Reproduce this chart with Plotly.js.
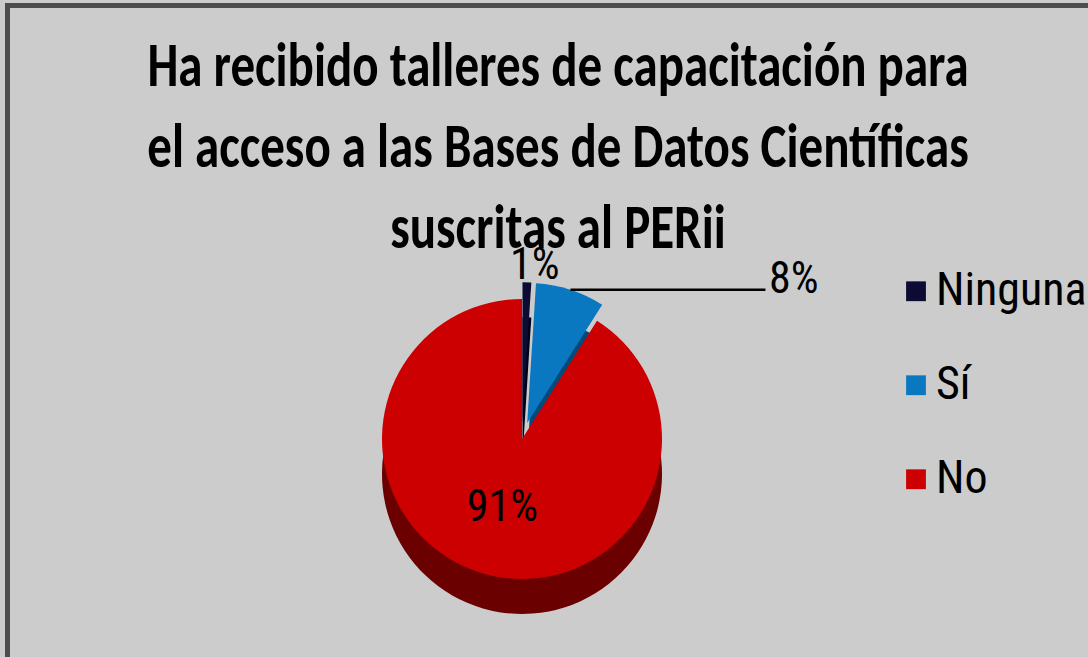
<!DOCTYPE html>
<html>
<head>
<meta charset="utf-8">
<script src="https://cdn.plot.ly/plotly-3.0.1.min.js"></script>
<style>
html,body{margin:0;padding:0;background:#cccccc;}
#chart{width:1088px;height:657px;}
#chart .gtitle{transform-box:fill-box;transform-origin:50% 50%;transform:scaleY(1.27);}
#chart .legendpie{transform:translate(20px,0px) scale(1.65);}
</style>
</head>
<body>
<div id="chart"></div>
<script>
const categories = ["Ninguna", "Sí", "No"];
const values = [1, 8, 91];
const topColors = ["#0b0b33", "#0a78c0", "#cc0000"];
const sideColors = ["#000018", "#004a7c", "#6a0000"];
const chartTitle = "Ha recibido talleres de capacitación para<br>el acceso a las Bases de Datos Científicas<br>suscritas al PERii";

const W = 1088, H = 657;
const cx = 522, cy = 439, r = 140, pullFrac = 0.12, depth = 35;
const half = r * (1 + pullFrac);
function dom(centerY) {
  return {
    x: [(cx - half) / W, (cx + half) / W],
    y: [((H - centerY) - half) / H, ((H - centerY) + half) / H]
  };
}
const pulls = [pullFrac, pullFrac, 0];
const narrow = "Roboto Condensed, Liberation Sans Narrow, Arial Narrow, sans-serif";
const labelFont = {family: narrow, size: 44, color: "#000000"};

const total = values.reduce((a, b) => a + b, 0);
const pctText = values.map(v => Math.round(v / total * 100) + "%");
// mid-angle (clockwise from 12 o'clock) of each slice, from the data
const midAngles = [];
let acc = 0;
values.forEach(v => { midAngles.push((acc + v / 2) / total * 2 * Math.PI); acc += v; });
function outerPoint(i) {
  const d = r * (1 + pulls[i]);
  return {x: (cx + Math.sin(midAngles[i]) * d) / W, y: 1 - (cy - Math.cos(midAngles[i]) * d) / H};
}

const side = {
  type: "pie", labels: categories, values: values, sort: false,
  direction: "clockwise", rotation: 0, pull: pulls,
  marker: {colors: sideColors, line: {width: 0}},
  textinfo: "none", hoverinfo: "skip", showlegend: false,
  domain: dom(cy + depth)
};
const main = {
  type: "pie",
  labels: categories.map(c => '<span style="font-size:46px">' + c + '</span><br> '),
  values: values, sort: false,
  direction: "clockwise", rotation: 0, pull: pulls,
  marker: {colors: topColors, line: {width: 0}},
  texttemplate: ["", "", "%{percent}"],
  textposition: "inside",
  insidetextorientation: "horizontal",
  textfont: labelFont, insidetextfont: labelFont,
  customdata: categories,
  hovertemplate: "%{customdata}: %{percent}<extra></extra>",
  domain: dom(cy)
};

const p0 = outerPoint(0), p1 = outerPoint(1);
const leaderLen = 195;
const annotations = [
  {x: p0.x, y: p0.y, xref: "paper", yref: "paper", text: pctText[0], showarrow: false,
   xanchor: "center", yanchor: "bottom", xshift: 8, yshift: -10, font: labelFont},
  {x: p1.x, y: p1.y, xref: "paper", yref: "paper", text: pctText[1], showarrow: false,
   xanchor: "left", yanchor: "middle", xshift: leaderLen + 2, yshift: 12, font: labelFont}
];

const layout = {
  width: W, height: H,
  margin: {l: 0, r: 0, t: 0, b: 0, autoexpand: false},
  paper_bgcolor: "#cccccc",
  title: {
    text: chartTitle,
    font: {family: "Carlito, Calibri, sans-serif", size: 49, color: "#000000", weight: "bold"},
    x: 558 / W, xanchor: "center",
    y: 1 - 99 / H, yref: "container", yanchor: "middle"
  },
  legend: {
    x: 896 / W, xanchor: "left",
    y: 1 - 262 / H, yanchor: "top",
    font: {family: narrow, size: 35, color: "#000000"},
    valign: "top",
    bgcolor: "rgba(0,0,0,0)",
    itemwidth: 30
  },
  annotations: annotations,
  shapes: [
    {type: "line", xref: "paper", yref: "paper", x0: p1.x, y0: p1.y, x1: p1.x + leaderLen / W, y1: p1.y,
     line: {color: "#000000", width: 2.5}},
    {type: "rect", xref: "paper", yref: "paper", x0: 5 / W, x1: 1, y0: 1 - 8 / H, y1: 1 - 3 / H, fillcolor: "#4d4d4d", line: {width: 0}, layer: "above"},
    {type: "rect", xref: "paper", yref: "paper", x0: 5 / W, x1: 10 / W, y0: 0, y1: 1 - 3 / H, fillcolor: "#4d4d4d", line: {width: 0}, layer: "above"}
  ],
  showlegend: true
};

Plotly.newPlot("chart", [side, main], layout, {displayModeBar: false, responsive: false});
</script>
</body>
</html>
